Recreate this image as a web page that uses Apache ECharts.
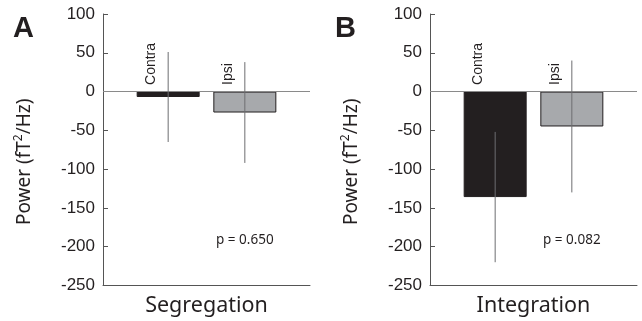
<!DOCTYPE html>
<html>
<head>
<meta charset="utf-8">
<script src="https://cdn.jsdelivr.net/npm/echarts@6/dist/echarts.min.js"></script>
<style>
  html, body { margin: 0; padding: 0; background: #fff; }
  #chart { width: 642px; height: 321px; }
</style>
</head>
<body>
<div id="chart"></div>
<script>
// bars: Contra / Ipsi
const categories = ['Contra', 'Ipsi']
const barX = [1, 2]
// panel A (Segregation)
const segMean = [-7, -27]
const segErr = [58, 65]
// panel B (Integration)
const intMean = [-136, -45]
const intErr = [84, 85]

const conditions = ['Segregation', 'Integration']
const panelLetters = ['A', 'B']
const pLabels = ['p = 0.650', 'p = 0.082']
const pPos = [2, -192]
const labelY = 8.5

const Y_MIN = -250
const Y_MAX = 100
const Y_STEP = 50

const BAR_COLORS = ['#231f20', '#a7a9ac']
const AXIS_COLOR = '#555'
const ERR_COLOR = '#6d6e71'
const TEXT_COLOR = '#231f20'
const TICK_FONT = '"Liberation Sans", Arial, sans-serif'
const TEXT_FONT = '"Noto Sans", "Open Sans", sans-serif'

const chart = echarts.init(document.getElementById('chart'), null, { renderer: 'canvas' })

const grids = [
  { left: 103, top: 14, width: 207, height: 271.5, outerBoundsMode: 'none' },
  { left: 430, top: 14, width: 207, height: 271.5, outerBoundsMode: 'none' }
]

function makeXAxis (i) {
  return {
    gridIndex: i,
    type: 'value',
    min: 0.15,
    max: 2.85,
    name: conditions[i],
    nameLocation: 'middle',
    nameGap: 9,
    nameTextStyle: { fontFamily: TEXT_FONT, fontSize: 21.5, color: TEXT_COLOR },
    axisLine: { show: true, onZero: false, lineStyle: { color: AXIS_COLOR, width: 1 } },
    axisTick: { show: false },
    axisLabel: { show: false },
    splitLine: { show: false }
  }
}

function makeYAxis (i) {
  return {
    gridIndex: i,
    type: 'value',
    min: Y_MIN,
    max: Y_MAX,
    interval: Y_STEP,
    name: '{t|Power (fT}{s|2}{t|/Hz)}',
    nameLocation: 'middle',
    nameGap: 66,
    nameTextStyle: {
      padding: [0, 24, 0, 0],
      rich: {
        t: { fontFamily: TEXT_FONT, fontSize: 19, color: TEXT_COLOR, lineHeight: 24 },
        s: { fontFamily: TEXT_FONT, fontSize: 12, color: TEXT_COLOR, verticalAlign: 'top', lineHeight: 12 }
      }
    },
    axisLine: { show: true, lineStyle: { color: AXIS_COLOR, width: 1 } },
    axisTick: { show: true, inside: true, length: 5, lineStyle: { color: AXIS_COLOR } },
    axisLabel: { margin: 8, fontFamily: TICK_FONT, fontSize: 17, color: TEXT_COLOR },
    splitLine: { show: false }
  }
}

function barSeries (i, means) {
  return {
    type: 'bar',
    xAxisIndex: i,
    yAxisIndex: i,
    barWidth: 63,
    data: means.map((v, k) => ({
      value: [barX[k], v],
      itemStyle: { color: BAR_COLORS[k], borderColor: '#231f20', borderWidth: 1 }
    })),
    markLine: {
      silent: true,
      symbol: 'none',
      label: { show: false },
      lineStyle: { color: '#8a8a8a', width: 1, type: 'solid' },
      data: [{ yAxis: 0 }]
    },
    z: 2
  }
}

// error bars + rotated category labels
function errSeries (i, means, errs) {
  return {
    type: 'custom',
    xAxisIndex: i,
    yAxisIndex: i,
    data: means.map((v, k) => [barX[k], v, errs[k], k]),
    renderItem: (params, api) => {
      const x = api.value(0)
      const m = api.value(1)
      const e = api.value(2)
      const k = api.value(3)
      const top = api.coord([x, m + e])
      const bot = api.coord([x, m - e])
      const lab = api.coord([x, labelY])
      return {
        type: 'group',
        children: [
          {
            type: 'line',
            shape: { x1: top[0], y1: top[1], x2: bot[0], y2: bot[1] },
            style: { stroke: ERR_COLOR, lineWidth: 1 }
          },
          {
            type: 'text',
            x: lab[0] - 17,
            y: lab[1],
            rotation: Math.PI / 2,
            style: {
              text: categories[k],
              font: '14px ' + TICK_FONT,
              fill: TEXT_COLOR,
              align: 'left',
              verticalAlign: 'middle'
            }
          }
        ]
      }
    },
    z: 5
  }
}

function pSeries (i) {
  return {
    type: 'custom',
    xAxisIndex: i,
    yAxisIndex: i,
    data: [pPos],
    renderItem: (params, api) => {
      const p = api.coord([api.value(0), api.value(1)])
      return {
        type: 'text',
        x: p[0],
        y: p[1],
        style: {
          text: pLabels[i],
          font: '13.5px ' + TEXT_FONT,
          fill: TEXT_COLOR,
          align: 'center',
          verticalAlign: 'middle'
        }
      }
    },
    z: 5
  }
}

chart.setOption({
  animation: false,
  backgroundColor: '#fff',
  title: panelLetters.map((t, i) => ({
    text: t,
    left: i === 0 ? 13 : 335,
    top: 14,
    padding: 0,
    textStyle: { fontFamily: TICK_FONT, fontSize: 29, fontWeight: 'bold', color: TEXT_COLOR }
  })),
  grid: grids,
  xAxis: [makeXAxis(0), makeXAxis(1)],
  yAxis: [makeYAxis(0), makeYAxis(1)],
  series: [
    barSeries(0, segMean),
    barSeries(1, intMean),
    errSeries(0, segMean, segErr),
    errSeries(1, intMean, intErr),
    pSeries(0),
    pSeries(1)
  ]
})
</script>
</body>
</html>
